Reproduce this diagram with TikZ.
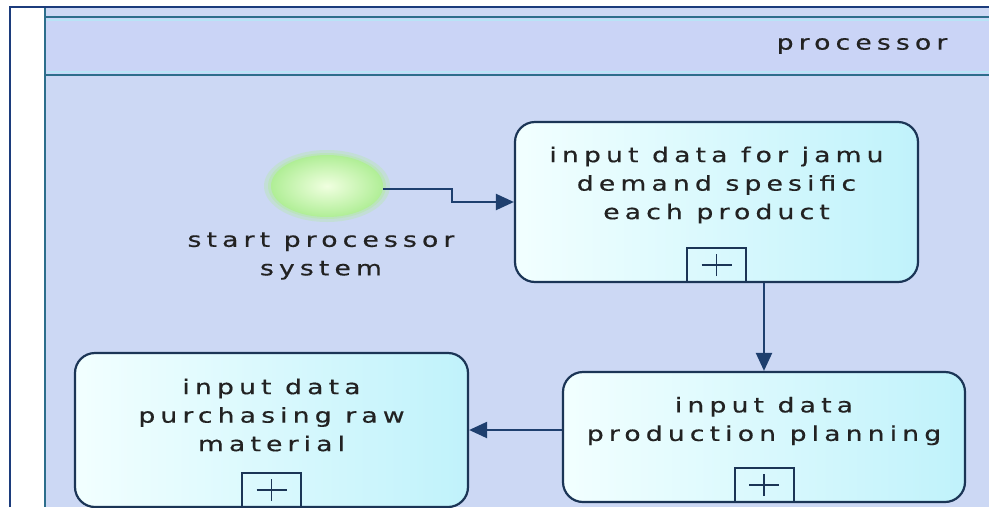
\documentclass[tikz,border=0pt]{standalone}
\usepackage{fontspec}
\newfontfamily\lanefont[LetterSpace=25,FakeStretch=1.3,FakeBold=0.5]{DejaVu Sans}
\usetikzlibrary{arrows.meta,shapes.geometric}

\definecolor{lanebg}{HTML}{CCD8F4}
\definecolor{headbg}{HTML}{CAD4F6}
\definecolor{headhi}{HTML}{B8E4F6}
\definecolor{laneline}{HTML}{2D6E8C}
\definecolor{frameline}{HTML}{1C3C7C}
\definecolor{taskline}{HTML}{1B3556}
\definecolor{taskhi}{HTML}{F2FFFF}
\definecolor{tasklo}{HTML}{C0F2FB}
\definecolor{flowline}{HTML}{1E3F6E}
\definecolor{textcol}{HTML}{222222}
\definecolor{startin}{HTML}{F0FFE0}
\definecolor{startout}{HTML}{B0EE96}

\tikzset{
  task/.style={draw=taskline, line width=2.2pt, rounded corners=20pt,
    left color=taskhi, right color=tasklo, inner sep=0pt},
  plusbox/.style={draw=taskline, line width=2pt, inner sep=0pt,
    minimum width=59pt, minimum height=34pt, anchor=south},
  plusmark/.style={draw=taskline, line width=1.4pt},
  tasktext/.style={text=textcol, align=center, inner sep=0pt,
    font=\lanefont\fontsize{20.5}{28.5}\selectfont},
  flow/.style={draw=flowline, line width=2.2pt,
    -{Triangle[length=18pt,width=16pt]}},
}

\begin{document}
\begin{tikzpicture}[x=1pt,y=-1pt]
  % page and lane
  \fill[white] (0,0) rectangle (989,507);
  \useasboundingbox (0,0) rectangle (989,507);
  \fill[lanebg] (45,7) rectangle (989,507);
  \fill[headbg] (45,17) rectangle (989,75);
  \draw[headhi, line width=1.5pt] (47,20) -- (989,20);
  \draw[headhi, line width=1.5pt] (47,72) -- (989,72);
  \draw[laneline, line width=2.2pt] (45,17) -- (989,17);
  \draw[laneline, line width=2.2pt] (45,75) -- (989,75);
  \draw[laneline, line width=2.6pt] (45,8) -- (45,507);
  \draw[frameline, line width=1.5pt] (10,507) -- (10,7) -- (989,7);

  % lane title
  \node[tasktext, anchor=center] (lanetitle) at (862,46) {processor};

  % start event with a soft halo
  \fill[startout, opacity=0.3] (327,186) ellipse (63pt and 36pt);
  \fill[startout, opacity=0.4] (327,186) ellipse (59pt and 33pt);
  \node[ellipse, minimum width=112pt, minimum height=62pt, inner sep=0pt,
        inner color=startin, outer color=startout] (start) at (327,186) {};
  \node[tasktext] (startlbl) at (321,256) {start processor\\system};

  % tasks
  \node[task, minimum width=403pt, minimum height=160pt] (b1) at (716.5,202) {};
  \node[task, minimum width=402pt, minimum height=130pt] (b2) at (764,437) {};
  \node[task, minimum width=393pt, minimum height=154pt] (b3) at (271.5,430) {};

  \node[tasktext] (b1t) at ([yshift=17pt]b1.center) {input data for jamu\\demand spesific\\each product};
  \node[tasktext] (b2t) at ([yshift=16pt]b2.center) {input data\\production planning};
  \node[tasktext] (b3t) at ([yshift=15pt]b3.center) {input data\\purchasing raw\\material};

  % collapsed sub-process markers
  \foreach \t in {b1,b2,b3}{
    \node[plusbox] (\t p) at (\t.south) {};
    \draw[plusmark] ([xshift=-15pt]\t p.center) -- ([xshift=15pt]\t p.center);
    \draw[plusmark] ([yshift=-11pt]\t p.center) -- ([yshift=11pt]\t p.center);
  }

  % sequence flows
  \draw[flow] ([yshift=-3pt]start.east) -- ++(69,0) |- (b1.west);
  \draw[flow] (b2.north |- b1.south) -- (b2.north);
  \draw[flow] (b2.west |- b3.east) -- (b3.east);
\end{tikzpicture}
\end{document}
